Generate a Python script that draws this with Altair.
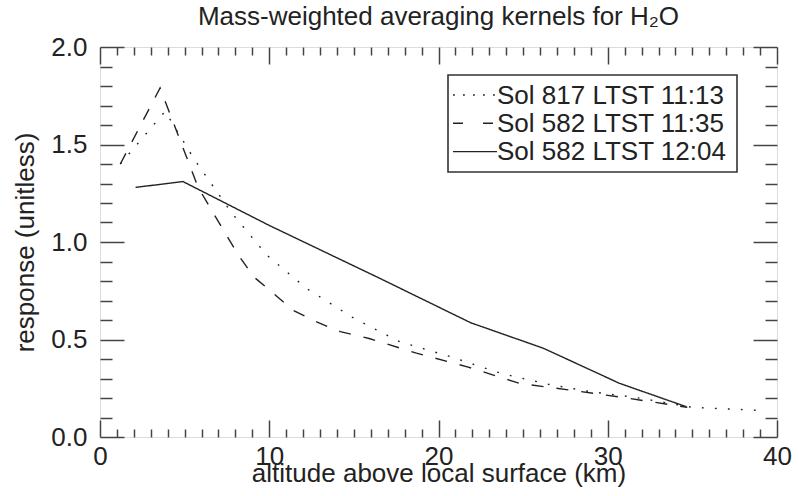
import altair as alt
import pandas as pd

FONT = "Liberation Sans"
INK = "#222222"
FRAME = "#444444"

series_names = ["Sol 817 LTST 11:13", "Sol 582 LTST 11:35", "Sol 582 LTST 12:04"]

# Sol 817 LTST 11:13 (dotted)
alt_817 = [1.2, 3.85, 5.6, 7.8, 9.85, 12.2, 15.0, 17.7, 20.7, 23.7, 26.5, 29.0, 31.5, 35.0, 38.8]
resp_817 = [1.40, 1.67, 1.42, 1.147, 0.933, 0.762, 0.609, 0.489, 0.412, 0.326, 0.27, 0.232, 0.205, 0.152, 0.137]

# Sol 582 LTST 11:35 (dashed)
alt_582a = [1.2, 3.55, 5.8, 7.3, 8.2, 9.1, 10.2, 11.4, 12.8, 14.2, 15.9, 18.7, 21.7, 24.8, 27.8, 30.9, 34.7]
resp_582a = [1.40, 1.79, 1.28, 1.06, 0.93, 0.82, 0.74, 0.65, 0.59, 0.54, 0.505, 0.43, 0.36, 0.275, 0.24, 0.203, 0.152]

# Sol 582 LTST 12:04 (solid)
alt_582b = [2.1, 4.9, 10.0, 16.5, 21.9, 26.2, 30.7, 34.65]
resp_582b = [1.28, 1.31, 1.085, 0.815, 0.586, 0.455, 0.275, 0.155]

x_major = [0, 10, 20, 30, 40]
x_minor = [1, 2, 3, 4, 5, 6, 7, 8, 9, 11, 12, 13, 14, 15, 16, 17, 18, 19,
           21, 22, 23, 24, 25, 26, 27, 28, 29, 31, 32, 33, 34, 35, 36, 37, 38, 39]
y_major = [0.0, 0.5, 1.0, 1.5, 2.0]
y_minor = [0.1, 0.2, 0.3, 0.4, 0.6, 0.7, 0.8, 0.9, 1.1, 1.2, 1.3, 1.4,
           1.6, 1.7, 1.8, 1.9]

title_text = "Mass-weighted averaging kernels for H\u2082O"
x_title = "altitude above local surface (km)"
y_title = "response (unitless)"

rows = []
for name, xs_, ys_ in zip(series_names, [alt_817, alt_582a, alt_582b],
                          [resp_817, resp_582a, resp_582b]):
    for i, (a, r) in enumerate(zip(xs_, ys_)):
        rows.append({"series": name, "alt": a, "resp": r, "order": i})
df = pd.DataFrame(rows)

W, H = 677, 390
xs = alt.Scale(domain=[0, 40], nice=False, zero=False)
ys = alt.Scale(domain=[0, 2], nice=False, zero=False)

common = dict(grid=False, domain=False, tickColor=FRAME, tickWidth=1.5)

ax_bottom_major = alt.Axis(orient="bottom", values=x_major, tickSize=17, offset=-17,
                           labelPadding=6, labelFontSize=26, labelFont=FONT,
                           labelColor=INK, labelFlush=False, labelOverlap=False,
                           format="d", title=x_title, titleFontSize=26, titleFont=FONT,
                           titleFontWeight="normal", titleColor=INK, titleX=W / 2,
                           titleY=61, titleBaseline="alphabetic", titleAlign="center",
                           **common)
ax_left_major = alt.Axis(orient="left", values=y_major, tickSize=24, offset=-24,
                         labelPadding=13, labelFontSize=26, labelFont=FONT,
                         labelColor=INK, labelOverlap=False, format=".1f",
                         title=y_title, titleFontSize=26, titleFont=FONT,
                         titleFontWeight="normal", titleColor=INK, titleX=-91,
                         titleY=H / 2, titleAngle=270, titleBaseline="alphabetic",
                         titleAlign="center", **common)
ax_bottom_minor = alt.Axis(orient="bottom", values=x_minor, tickSize=8, offset=-8,
                           labels=False, title="", **common)
ax_left_minor = alt.Axis(orient="left", values=y_minor, tickSize=12, offset=-12,
                         labels=False, title="", **common)
ax_top_major = alt.Axis(orient="top", values=x_major, tickSize=17, offset=-17,
                        labels=False, title="", **common)
ax_right_major = alt.Axis(orient="right", values=y_major, tickSize=24, offset=-24,
                          labels=False, title="", **common)
ax_top_minor = alt.Axis(orient="top", values=x_minor, tickSize=8, offset=-8,
                        labels=False, title="", **common)
ax_right_minor = alt.Axis(orient="right", values=y_minor, tickSize=12, offset=-12,
                          labels=False, title="", **common)

dash_data = [[1.8, 11.2], [12, 13], [1, 0]]

lines = alt.Chart(df).mark_line(strokeWidth=1.4, color=INK).encode(
    x=alt.X("alt:Q", scale=xs, axis=ax_bottom_major),
    y=alt.Y("resp:Q", scale=ys, axis=ax_left_major),
    strokeDash=alt.StrokeDash("series:N", scale=alt.Scale(domain=series_names, range=dash_data),
                              legend=None),
    detail="series:N",
    order="order:Q",
)


def ghost(xa, ya):
    return alt.Chart(df).mark_point(opacity=0).encode(
        x=alt.X("alt:Q", scale=xs, axis=xa),
        y=alt.Y("resp:Q", scale=ys, axis=ya),
    )


g1 = ghost(ax_bottom_minor, ax_left_minor)
g2 = ghost(ax_top_major, ax_right_major)
g3 = ghost(ax_top_minor, ax_right_minor)

title_layer = alt.Chart(pd.DataFrame({"t": [title_text]})).mark_text(
    fontSize=26, font=FONT, align="center", baseline="alphabetic", color=INK
).encode(x=alt.value(W / 2), y=alt.value(-22), text="t:N")

box_df = pd.DataFrame({"k": [0]})
legend_box = alt.Chart(box_df).mark_rect(fill="white", stroke="#333333", strokeWidth=1.6).encode(
    x=alt.value(348), x2=alt.value(637), y=alt.value(28), y2=alt.value(125)
)

legend_dashes = [[1.8, 8.2], [10, 20], [1, 0]]
legend_layers = [legend_box]
for i, name in enumerate(series_names):
    ly = 48 + i * 28.3
    ldf = pd.DataFrame({"label": [name]})
    legend_layers.append(
        alt.Chart(ldf).mark_rule(strokeWidth=1.4, color=INK, strokeDash=legend_dashes[i]).encode(
            x=alt.value(353), x2=alt.value(397), y=alt.value(ly)
        )
    )
    legend_layers.append(
        alt.Chart(ldf).mark_text(fontSize=26, font=FONT, align="left", baseline="middle",
                                 color=INK).encode(
            x=alt.value(397), y=alt.value(ly + 0.7), text="label:N"
        )
    )

chart = alt.layer(lines, g1, g2, g3, title_layer, *legend_layers).resolve_axis(
    x="independent", y="independent"
).properties(
    width=W, height=H,
    autosize=alt.AutoSizeParams(type="none"),
    padding={"left": 100, "top": 47, "right": 22, "bottom": 59},
).configure_view(stroke=FRAME, strokeWidth=1.5).configure(background="white")

chart.save("out.html", embed_options={"renderer": "svg", "actions": False})
